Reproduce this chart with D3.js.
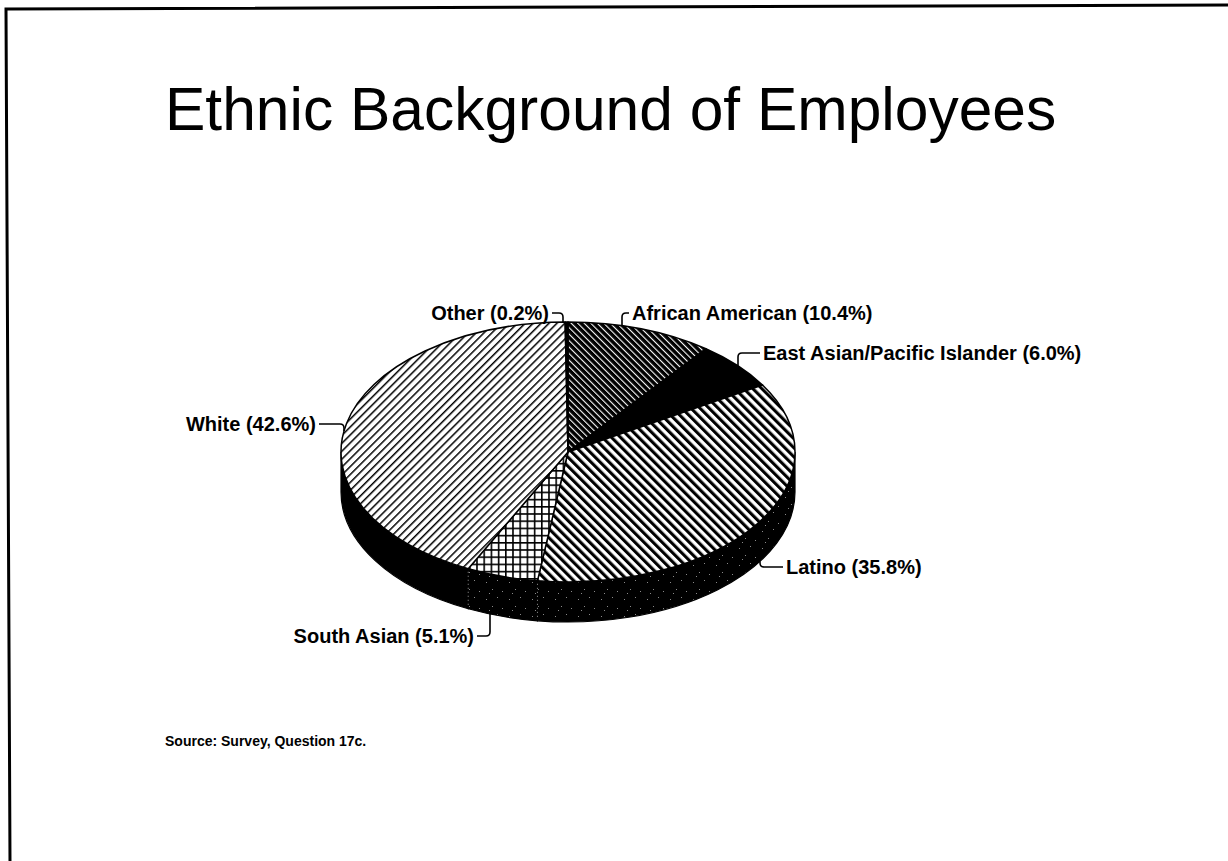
<!DOCTYPE html>
<html>
<head>
<meta charset="utf-8">
<script src="https://cdn.jsdelivr.net/npm/d3@7"></script>
<style>
  html, body { margin: 0; padding: 0; background: #fff; }
  svg { display: block; }
</style>
</head>
<body>
<svg id="chart" width="1228" height="861"></svg>
<script>
// ---- data ----
const categories = ["African American", "East Asian/Pacific Islander", "Latino", "South Asian", "White", "Other"];
const shares = [10.4, 6.0, 35.8, 5.1, 42.6, 0.2];
const titleText = "Ethnic Background of Employees";
const sourceText = "Source: Survey, Question 17c.";

// ---- layout ----
const W = 1228, H = 861;
const pie3d = { cx: 568, cy: 452, rx: 227, ry: 130, depth: 40 };
const fontFamily = "'Liberation Sans', Arial, Helvetica, sans-serif";

// label placement: text position, anchoring, and where the leader meets the pie
const labelLayout = {
  "African American":            { x: 632, y: 313, anchor: "start", elbowX: 622, edge: "top" },
  "East Asian/Pacific Islander": { x: 763, y: 353, anchor: "start", elbowX: 738, edge: "top" },
  "Latino":                      { x: 786, y: 567, anchor: "start", elbowX: 760, edge: "bottom" },
  "South Asian":                 { x: 474, y: 636, anchor: "end",   elbowX: 490, edge: "bottom" },
  "White":                       { x: 316, y: 424, anchor: "end",   elbowX: 344, edge: "top" },
  "Other":                       { x: 549, y: 313, anchor: "end",   elbowX: 563, edge: "top" }
};

const svg = d3.select("#chart");
svg.append("rect").attr("width", W).attr("height", H).attr("fill", "#fff");

// ---- fill patterns ----
const defs = svg.append("defs");
function hatch(id, angle, period, lineW, fg, bg) {
  const p = defs.append("pattern")
    .attr("id", id)
    .attr("patternUnits", "userSpaceOnUse")
    .attr("width", period).attr("height", period)
    .attr("patternTransform", `rotate(${angle})`);
  p.append("rect").attr("width", period).attr("height", period).attr("fill", bg);
  p.append("rect").attr("x", 0).attr("y", 0).attr("width", lineW).attr("height", period).attr("fill", fg);
}
hatch("pWhite", 45, 5.6, 1.5, "#000", "#fff");
hatch("pLatino", -45, 6.4, 3.1, "#000", "#fff");
hatch("pAfrican", -45, 4.6, 1.1, "#fff", "#000");

const grid = defs.append("pattern")
  .attr("id", "pGrid").attr("patternUnits", "userSpaceOnUse")
  .attr("width", 7.2).attr("height", 7.2).attr("x", 1).attr("y", 2);
grid.append("rect").attr("width", 7.2).attr("height", 7.2).attr("fill", "#fff");
grid.append("rect").attr("width", 1.6).attr("height", 7.2).attr("fill", "#000");
grid.append("rect").attr("width", 7.2).attr("height", 1.6).attr("fill", "#000");

// dark speckled texture for the wall under the lighter slices
const speck = defs.append("pattern")
  .attr("id", "pSpeck").attr("patternUnits", "userSpaceOnUse")
  .attr("width", 23).attr("height", 17);
speck.append("rect").attr("width", 23).attr("height", 17).attr("fill", "#000");
[[3, 4], [14, 2], [9, 11], [19, 13], [6, 15]].forEach(([x, y]) =>
  speck.append("rect").attr("x", x).attr("y", y).attr("width", 1).attr("height", 1).attr("fill", "#8a8a8a"));

const topFill = {
  "African American": "url(#pAfrican)",
  "East Asian/Pacific Islander": "#000",
  "Latino": "url(#pLatino)",
  "South Asian": "url(#pGrid)",
  "White": "url(#pWhite)",
  "Other": "#000"
};
const sideFill = {
  "African American": "#000",
  "East Asian/Pacific Islander": "#000",
  "Latino": "url(#pSpeck)",
  "South Asian": "url(#pSpeck)",
  "White": "#000",
  "Other": "#000"
};

// ---- frame ----
svg.append("path")
  .attr("d", "M10,861 L6,9 L1228,5")
  .attr("fill", "none").attr("stroke", "#000").attr("stroke-width", 3);

// ---- title ----
svg.append("text")
  .attr("x", 165).attr("y", 130)
  .attr("font-family", fontFamily)
  .attr("font-size", 60.5)
  .attr("fill", "#000")
  .text(titleText);

// ---- pie geometry ----
const { cx, cy, rx, ry, depth } = pie3d;
const pt = (a, dy = 0) => [cx + rx * Math.sin(a), cy - ry * Math.cos(a) + dy];

const slices = d3.pie().sort(null).value(d => d.value)
  (categories.map((c, i) => ({ name: c, value: shares[i] })));

function topPath(s) {
  const [x0, y0] = pt(s.startAngle), [x1, y1] = pt(s.endAngle);
  const large = (s.endAngle - s.startAngle) > Math.PI ? 1 : 0;
  return `M${cx},${cy} L${x0},${y0} A${rx},${ry} 0 ${large} 1 ${x1},${y1} Z`;
}
function sidePath(s) {
  const a0 = Math.max(s.startAngle, Math.PI / 2), a1 = Math.min(s.endAngle, 3 * Math.PI / 2);
  if (a1 <= a0) return null;
  const [x0, y0] = pt(a0), [x1, y1] = pt(a1);
  return `M${x0},${y0} A${rx},${ry} 0 0 1 ${x1},${y1} L${x1},${y1 + depth} ` +
         `A${rx},${ry} 0 0 0 ${x0},${y0 + depth} Z`;
}

const pieG = svg.append("g");

// outer wall
pieG.selectAll("path.side")
  .data(slices.filter(s => sidePath(s)))
  .join("path")
  .attr("class", "side")
  .attr("d", sidePath)
  .attr("fill", d => sideFill[d.data.name])
  .attr("stroke", "#000").attr("stroke-width", 1.2);

// faint seams on the wall where slices meet
pieG.selectAll("line.seam")
  .data(slices.filter(s => s.startAngle > Math.PI / 2 && s.startAngle < 3 * Math.PI / 2))
  .join("line")
  .attr("class", "seam")
  .attr("x1", d => pt(d.startAngle)[0]).attr("y1", d => pt(d.startAngle)[1] + 3)
  .attr("x2", d => pt(d.startAngle)[0]).attr("y2", d => pt(d.startAngle)[1] + depth - 2)
  .attr("stroke", "#9a9a9a").attr("stroke-width", 1).attr("stroke-dasharray", "1 3");

// top faces
pieG.selectAll("path.top")
  .data(slices)
  .join("path")
  .attr("class", "top")
  .attr("d", topPath)
  .attr("fill", d => topFill[d.data.name])
  .attr("stroke", "#000").attr("stroke-width", 1.5).attr("stroke-linejoin", "round");

// ---- labels with leader lines ----
function edgeY(x, edge) {
  const t = Math.max(0, 1 - ((x - cx) / rx) ** 2);
  return edge === "top" ? cy - ry * Math.sqrt(t) : cy + ry * Math.sqrt(t) + depth;
}

const labelG = svg.append("g");
slices.forEach(s => {
  const name = s.data.name;
  const L = labelLayout[name];
  const txt = `${name} (${s.data.value.toFixed(1)}%)`;
  const sx = L.anchor === "start" ? L.x - 3 : L.x + 3;
  const ey = edgeY(L.elbowX, L.edge);
  const dir = Math.sign(L.elbowX - sx);
  const vdir = Math.sign(ey - L.y) || 1;
  const r = Math.min(4, Math.abs(ey - L.y), Math.abs(L.elbowX - sx));
  const p = d3.path();
  p.moveTo(sx, L.y);
  p.lineTo(L.elbowX - dir * r, L.y);
  p.quadraticCurveTo(L.elbowX, L.y, L.elbowX, L.y + vdir * r);
  p.lineTo(L.elbowX, ey);
  labelG.append("path")
    .attr("d", p.toString())
    .attr("fill", "none").attr("stroke", "#000").attr("stroke-width", 1.6);
  labelG.append("text")
    .attr("x", L.x).attr("y", L.y).attr("dy", "0.36em")
    .attr("text-anchor", L.anchor)
    .attr("font-family", fontFamily)
    .attr("font-weight", "bold")
    .attr("font-size", 20)
    .attr("fill", "#000")
    .text(txt);
});

// ---- source note ----
svg.append("text")
  .attr("x", 165).attr("y", 746)
  .attr("font-family", fontFamily)
  .attr("font-weight", "bold")
  .attr("font-size", 14)
  .attr("fill", "#000")
  .text(sourceText);
</script>
</body>
</html>
